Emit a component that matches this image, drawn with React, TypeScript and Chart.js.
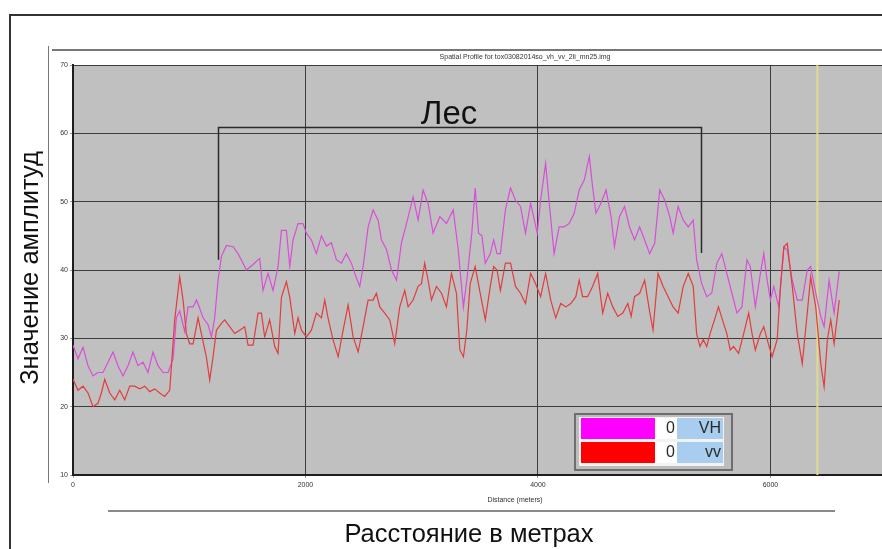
import React, { useEffect, useRef } from 'react';
import { Chart, registerables } from 'chart.js';

Chart.register(...registerables);

// ---------- data ----------
const vhDistance = [0,43,86,129,172,215,258,301,344,387,430,473,516,559,602,645,688,731,775,818,861,889,918,961,990,1033,1062,1090,1119,1162,1191,1219,1248,1277,1320,1377,1420,1463,1492,1549,1606,1635,1678,1721,1764,1793,1836,1865,1893,1936,1979,2008,2051,2094,2137,2180,2223,2266,2309,2352,2395,2424,2467,2496,2539,2582,2625,2654,2697,2740,2783,2826,2869,2926,2969,3012,3055,3098,3156,3213,3271,3314,3359,3388,3431,3460,3489,3518,3547,3590,3619,3648,3677,3720,3764,3807,3850,3893,3937,3994,4023,4066,4095,4139,4182,4225,4268,4312,4355,4399,4442,4470,4499,4543,4586,4629,4658,4701,4745,4788,4831,4875,4918,4961,5004,5048,5091,5134,5163,5206,5250,5293,5336,5365,5409,5452,5495,5539,5582,5625,5669,5712,5755,5798,5827,5870,5914,5943,5972,6000,6029,6072,6116,6145,6188,6231,6274,6317,6346,6390,6433,6462,6505,6548,6592];
const vhValues = [29,27,28.7,26,24.5,25,25,26.5,28,26,24.5,26,28,26,26.5,25,28,26,25,25,27,33,34,31,34.6,34.6,35.6,34.4,33,32,30.2,33,38.5,42,43.6,43.4,42.4,41,40,40.8,41.7,37,39.5,37,40.5,45.8,45.8,40.5,44.4,46.8,46.8,45.4,44.4,42.4,45,43.5,44,41.5,41,42.4,41,39.5,37.6,40.5,46.3,48.8,47.3,44.4,43,40,38.5,44,46.8,50.7,47.3,51.7,49.7,45.4,47.8,46.8,48.8,43,34.6,38.5,45.4,52,45.4,45,41,42.4,44.4,42.4,42.4,48.8,52,50.2,49.3,45.4,49.8,45.4,50.2,55.6,50.2,42.4,46.3,46.3,46.8,48.3,51.7,53.2,56.6,52.2,48.3,49.8,51.7,47.8,43.4,47.8,49.3,46.3,44.4,46.3,44.4,42.4,43.9,51.7,50.2,47.8,45.4,49.3,47.3,46.3,47.3,41.5,38,36.1,36.6,41,42.4,39.5,36.6,33.7,34.6,41.5,40.5,34.6,39.5,42.4,38.5,35.6,37.6,34.6,43.4,42.9,38.5,35.6,35.6,40,40.5,36.6,33.2,31.7,38.5,33.7,39.8];

const vvDistance = [0,43,86,129,172,215,244,273,316,359,402,445,488,531,574,617,660,703,746,789,832,875,918,947,975,1004,1033,1076,1104,1147,1176,1205,1234,1277,1305,1348,1391,1434,1477,1506,1549,1592,1621,1649,1692,1736,1764,1793,1836,1865,1908,1936,1965,2008,2051,2094,2137,2166,2194,2237,2281,2324,2367,2410,2453,2496,2539,2582,2610,2639,2682,2725,2768,2811,2854,2883,2926,2969,2998,3026,3055,3084,3127,3170,3213,3256,3299,3328,3359,3388,3417,3460,3503,3547,3590,3619,3648,3677,3720,3764,3807,3850,3893,3937,3980,4023,4066,4110,4153,4196,4240,4283,4326,4355,4384,4427,4470,4514,4557,4600,4644,4687,4730,4773,4802,4831,4875,4918,4961,4990,5033,5077,5120,5163,5206,5250,5293,5336,5365,5394,5423,5452,5481,5524,5553,5582,5625,5654,5683,5726,5770,5813,5842,5870,5914,5943,5972,6015,6058,6087,6116,6145,6188,6231,6274,6317,6346,6390,6433,6462,6490,6519,6548,6592];
const vvValues = [24,22.4,23,22,20,20.5,22,24,22,21,22.4,21,23,23,22.6,23,22.2,22.6,22,21.5,22.4,32.7,39,35.6,30.7,29.2,29.2,33,30.7,27.3,23.9,27.3,31.2,32.2,32.7,31.7,30.7,31.2,31.7,29,29,33.7,33.7,30.2,32.7,28.8,27.8,36,38.3,36,30.7,33,31.2,30.2,31.2,33.7,33,35.6,33,29.8,27.3,31.2,34.9,30.2,28,31.7,35.6,35.6,36.6,34.6,33.7,32.7,29.2,34.6,37,34.6,35.6,37.6,38,41,38.5,35.6,37.6,36.6,34.6,39.5,36.6,28.3,27.3,31.2,38,40.5,36.6,32.7,37.6,40.5,40,37,41,41,37.6,36.6,35.1,39.5,38,36.1,39.5,35.6,33,35.1,34.6,35.1,36.1,38.5,36.1,36.1,37.6,39.5,33.7,36.6,34.6,33.2,33.7,35.1,33.2,36.1,36.6,38.5,33.9,31.2,39.5,37.6,36.1,34.6,33.7,37.6,39.5,37.6,30.7,28.8,29.8,28.8,30.7,33,34.6,33,30.7,28.3,28.8,27.8,30.7,33.7,30.7,28.3,30.7,31.7,29.8,27.3,29.8,37.6,43.4,43.9,37.6,30.7,26.3,33.7,39,34.6,26.3,22.9,29.8,32.7,29.2,35.6];

const yTicks = [10, 20, 30, 40, 50, 60, 70];
const xTicks = [0, 2000, 4000, 6000];
const seriesNames = ['VH', 'vv'];
const legendCounts = ['0', '0'];
const forestLabel = 'Лес';
const forestStart = 1245;
const forestEnd = 5401;
const forestTop = 60.9;
const forestLeftEnd = 41.5;
const forestRightEnd = 42.5;
const markerDistance = 6404;
const chartTitle = 'Spatial Profile for tox03082014so_vh_vv_2li_mn25.img';
const xAxisTitle = 'Distance (meters)';
const xCaption = 'Расстояние в метрах';
const yCaption = 'Значение амплитуд';

const W = 882;
const H = 549;
const FONT = '"Liberation Sans", Arial, sans-serif';
const VH_COLOR = '#d84ed8';
const VV_COLOR = '#e23c3c';
const VH_SWATCH = '#ff00ff';
const VV_SWATCH = '#ff0000';

const decoPlugin = {
  id: 'deco',
  beforeDraw(chart: any) {
    const { ctx, chartArea: a } = chart;
    ctx.save();
    ctx.fillStyle = '#ffffff';
    ctx.fillRect(0, 0, chart.width, chart.height);
    // outer frame
    ctx.strokeStyle = '#333';
    ctx.lineWidth = 2;
    ctx.beginPath();
    ctx.moveTo(10, H);
    ctx.lineTo(10, 15);
    ctx.lineTo(W, 15);
    ctx.stroke();
    // inner panel lines
    ctx.strokeStyle = '#777';
    ctx.lineWidth = 1;
    ctx.beginPath();
    ctx.moveTo(48.5, 46);
    ctx.lineTo(48.5, 483);
    ctx.stroke();
    ctx.lineWidth = 2;
    ctx.beginPath();
    ctx.moveTo(52, 50);
    ctx.lineTo(W, 50);
    ctx.stroke();
    ctx.strokeStyle = '#8a8a8a';
    ctx.beginPath();
    ctx.moveTo(108, 511);
    ctx.lineTo(835, 511);
    ctx.stroke();
    // plot background
    ctx.fillStyle = '#c0c0c0';
    ctx.fillRect(a.left, a.top, a.right - a.left, a.bottom - a.top);
    // small texts
    ctx.fillStyle = '#333';
    ctx.font = `7px ${FONT}`;
    ctx.textAlign = 'center';
    ctx.textBaseline = 'middle';
    ctx.fillText(chartTitle, 525, 57.5);
    ctx.fillText(xAxisTitle, 515, 500);
    // big captions
    ctx.fillStyle = '#111';
    ctx.font = `25.5px ${FONT}`;
    ctx.fillText(xCaption, 469, 535);
    ctx.save();
    ctx.translate(31, 268);
    ctx.rotate(-Math.PI / 2);
    ctx.fillText(yCaption, 0, 0);
    ctx.restore();
    ctx.restore();
  },
  beforeDatasetsDraw(chart: any) {
    const { ctx, chartArea: a, scales } = chart;
    const x = scales.x.getPixelForValue(markerDistance);
    ctx.save();
    ctx.strokeStyle = '#dcdc8c';
    ctx.lineWidth = 2;
    ctx.beginPath();
    ctx.moveTo(x, a.top);
    ctx.lineTo(x, a.bottom);
    ctx.stroke();
    ctx.restore();
  },
  afterDatasetsDraw(chart: any) {
    const { ctx, scales } = chart;
    const xs = scales.x;
    const ys = scales.y;
    ctx.save();
    // forest bracket
    const x1 = Math.round(xs.getPixelForValue(forestStart)) + 0.5;
    const x2 = Math.round(xs.getPixelForValue(forestEnd)) + 0.5;
    const yt = Math.round(ys.getPixelForValue(forestTop)) + 0.5;
    ctx.strokeStyle = '#2a2a2a';
    ctx.lineWidth = 1.5;
    ctx.beginPath();
    ctx.moveTo(x1, ys.getPixelForValue(forestLeftEnd));
    ctx.lineTo(x1, yt);
    ctx.lineTo(x2, yt);
    ctx.lineTo(x2, ys.getPixelForValue(forestRightEnd));
    ctx.stroke();
    ctx.fillStyle = '#111';
    ctx.font = `33px ${FONT}`;
    ctx.textAlign = 'center';
    ctx.textBaseline = 'alphabetic';
    ctx.fillText(forestLabel, 449, 124);

    // legend box
    const bx = 575, by = 414, bw = 157, bh = 56;
    ctx.fillStyle = '#bdbdbd';
    ctx.fillRect(bx, by, bw, bh);
    ctx.strokeStyle = '#6e6e6e';
    ctx.lineWidth = 2;
    ctx.strokeRect(bx, by, bw, bh);
    ctx.fillStyle = '#f2f2f2';
    ctx.fillRect(bx + 4, by + 3, bw - 12, bh - 7);
    const colors = [VH_SWATCH, VV_SWATCH];
    const rowY = [by + 4, by + 28];
    for (let i = 0; i < 2; i++) {
      const ry = rowY[i];
      ctx.fillStyle = colors[i];
      ctx.fillRect(bx + 6, ry, 74, 21);
      ctx.fillStyle = '#ffffff';
      ctx.fillRect(bx + 80, ry, 22, 21);
      ctx.fillStyle = '#a9cdef';
      ctx.fillRect(bx + 102, ry, 46, 21);
      ctx.fillStyle = '#2a2a2a';
      ctx.font = `16px ${FONT}`;
      ctx.textBaseline = 'middle';
      ctx.textAlign = 'right';
      ctx.fillText(legendCounts[i], bx + 100, ry + 11);
      ctx.fillText(seriesNames[i], bx + 146, ry + 11);
    }
    ctx.restore();
  },
};

export default function App() {
  const ref = useRef<HTMLCanvasElement | null>(null);

  useEffect(() => {
    if (!ref.current) return;
    const chart = new Chart(ref.current, {
      type: 'line',
      data: {
        datasets: [
          {
            label: seriesNames[1],
            data: vvDistance.map((d, i) => ({ x: d, y: vvValues[i] })),
            borderColor: VV_COLOR,
            borderWidth: 1.2,
            pointRadius: 0,
            tension: 0,
            fill: false,
          },
          {
            label: seriesNames[0],
            data: vhDistance.map((d, i) => ({ x: d, y: vhValues[i] })),
            borderColor: VH_COLOR,
            borderWidth: 1.2,
            pointRadius: 0,
            tension: 0,
            fill: false,
          },
        ],
      },
      options: {
        responsive: false,
        animation: false,
        events: [],
        layout: { padding: { left: 48, top: 65, right: 0, bottom: 54 } },
        plugins: {
          legend: { display: false },
          title: { display: false },
          tooltip: { enabled: false },
        },
        scales: {
          x: {
            type: 'linear',
            min: 0,
            max: 6960,
            afterBuildTicks: (s: any) => {
              s.ticks = xTicks.map((v) => ({ value: v }));
            },
            afterFit: (s: any) => {
              s.height = 20;
            },
            ticks: {
              font: { size: 7, family: FONT },
              color: '#333',
              padding: 3,
              maxRotation: 0,
              autoSkip: false,
              callback: (v: any) => String(v),
            },
            grid: { color: '#3c3c3c', lineWidth: 1, tickLength: 3, tickColor: '#999' },
            border: { display: true, color: '#1e1e1e', width: 2 },
          },
          y: {
            type: 'linear',
            min: 10,
            max: 70,
            afterBuildTicks: (s: any) => {
              s.ticks = yTicks.map((v) => ({ value: v }));
            },
            afterFit: (s: any) => {
              s.width = 25;
            },
            ticks: {
              font: { size: 7, family: FONT },
              color: '#333',
              padding: 2,
              autoSkip: false,
              callback: (v: any) => String(v),
            },
            grid: { color: '#3c3c3c', lineWidth: 1, tickLength: 3, tickColor: '#999' },
            border: { display: true, color: '#1e1e1e', width: 2 },
          },
        },
      },
      plugins: [decoPlugin],
    });
    return () => chart.destroy();
  }, []);

  return (
    <div style={{ position: 'fixed', left: 0, top: 0, width: W, height: H, background: '#fff' }}>
      <canvas ref={ref} width={W} height={H} style={{ display: 'block', width: W, height: H }} />
    </div>
  );
}
